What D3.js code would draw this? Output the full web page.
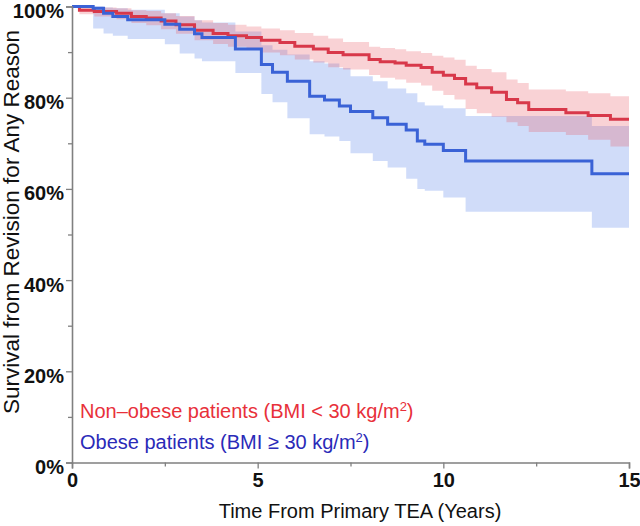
<!DOCTYPE html>
<html><head><meta charset="utf-8">
<script src="https://cdn.jsdelivr.net/npm/d3@7"></script>
<style>body{margin:0;background:#fff}</style>
</head><body>
<svg id="chart" width="640" height="526"></svg>
<script>
// ---- data ----
const nonObeseTime  = [0, 0.2, 0.6, 1.2, 1.6, 2.0, 2.4, 2.8, 3.3, 3.8, 4.2, 4.7, 5.1, 5.6, 6.0, 6.5, 6.9, 7.3, 8.0, 8.3, 8.7, 9.0, 9.4, 9.7, 10.0, 10.3, 10.6, 10.9, 11.3, 11.7, 12.0, 12.3, 13.3, 13.9, 14.5, 15];
const nonObeseSurv  = [100, 99.2, 98.9, 98.5, 97.8, 97.5, 96.8, 96.0, 94.8, 94.1, 93.6, 93.2, 92.6, 92.1, 91.3, 90.7, 89.9, 89.4, 88.4, 87.9, 87.6, 87.1, 86.6, 85.6, 84.9, 84.2, 83.0, 82.2, 81.2, 79.6, 78.9, 77.4, 76.7, 76.1, 75.3, 75.3];
const nonObeseLower = [100, 98.3, 97.8, 97.2, 96.4, 95.9, 95.0, 94.0, 92.6, 91.8, 91.2, 90.7, 89.9, 89.3, 88.4, 87.7, 86.7, 86.2, 85.0, 84.4, 84.0, 83.3, 82.7, 81.5, 80.6, 79.6, 77.5, 76.6, 75.8, 74.6, 73.8, 72.5, 71.8, 70.8, 69.3, 69.3];
const nonObeseUpper = [100, 99.9, 99.8, 99.6, 99.2, 99.0, 98.5, 97.9, 97.0, 96.4, 96.0, 95.6, 95.2, 94.8, 94.2, 93.6, 93.0, 92.2, 91.2, 90.9, 90.6, 90.2, 89.8, 89.2, 88.8, 88.3, 87.0, 86.3, 85.6, 84.0, 83.2, 81.8, 81.4, 81.0, 80.3, 80.3];

const obeseTime  = [0, 0.57, 0.85, 1.1, 1.5, 2.5, 2.9, 3.3, 3.5, 4.4, 5.1, 5.4, 5.8, 6.4, 6.8, 7.2, 7.5, 8.1, 8.5, 9.0, 9.3, 9.5, 10.0, 10.6, 14.0, 15];
const obeseSurv  = [100, 99.6, 98.5, 97.8, 97.1, 96.1, 95.0, 94.0, 93.2, 90.7, 87.3, 85.6, 83.6, 80.3, 79.5, 78.2, 77.0, 75.6, 74.2, 72.9, 70.5, 69.8, 68.4, 66.1, 63.3, 63.3];
const obeseLower = [100, 95.2, 94.1, 93.6, 92.9, 91.7, 89.7, 88.6, 88.0, 85.4, 80.8, 79.0, 75.5, 72.0, 71.5, 70.5, 67.8, 66.1, 64.7, 62.2, 60.0, 59.6, 58.1, 55.0, 51.5, 51.5];
const obeseUpper = [100, 100, 99.8, 99.6, 99.3, 98.5, 97.8, 97.0, 96.5, 94.5, 91.5, 90.5, 89.5, 88.0, 87.5, 86.5, 84.7, 83.6, 82.0, 81.0, 79.0, 78.3, 77.7, 76.0, 73.8, 73.8];

const xTickValues = [0, 5, 10, 15];
const xMinorTicks = [2.5, 7.5, 12.5];
const yTickValues = [0, 20, 40, 60, 80, 100];
const yMinorTicks = [10, 30, 50, 70, 90];
const xTitle = "Time From Primary TEA (Years)";
const yTitle = "Survival from Revision for Any Reason";
const legendNames = ["Non\u2013obese patients (BMI < 30 kg/m", "Obese patients (BMI \u2265 30 kg/m"];

// ---- drawing ----
const svg = d3.select("#chart");
const x = d3.scaleLinear().domain([0, 15]).range([72, 629]);
const y = d3.scaleLinear().domain([0, 100]).range([462.5, 6.5]);

const groups = [
  {t: obeseTime, s: obeseSurv, lo: obeseLower, hi: obeseUpper, line: "#3a62d6", band: "#4a78e6"},
  {t: nonObeseTime, s: nonObeseSurv, lo: nonObeseLower, hi: nonObeseUpper, line: "#d8384a", band: "#e8505e"}
];

const area = d3.area().curve(d3.curveStepAfter)
  .x(d => x(d.t)).y0(d => y(d.lo)).y1(d => y(d.hi));
const line = d3.line().curve(d3.curveStepAfter)
  .x(d => x(d.t)).y(d => y(d.s));

const rows = g => g.t.map((t, i) => ({t, s: g.s[i], lo: g.lo[i], hi: g.hi[i]}));

groups.forEach(g => {
  svg.append("path").datum(rows(g)).attr("d", area)
    .attr("fill", g.band).attr("fill-opacity", 0.26).attr("stroke", "none");
});
[groups[1], groups[0]].forEach(g => {
  svg.append("path").datum(rows(g)).attr("d", line)
    .attr("fill", "none").attr("stroke", g.line).attr("stroke-width", 3);
});

const axisColor = "#808080";
const font = "'Liberation Sans', Arial, sans-serif";

// y axis
const yAxis = svg.append("g").attr("transform", "translate(72,0)")
  .call(d3.axisLeft(y).tickValues(yTickValues).tickSize(6).tickPadding(2).tickFormat(d => d + "%"));
svg.append("g").attr("transform", "translate(72,0)")
  .call(d3.axisLeft(y).tickValues(yMinorTicks).tickSize(4).tickFormat(""))
  .call(g => g.select(".domain").remove());
// x axis
const xAxis = svg.append("g").attr("transform", "translate(0,462.5)")
  .call(d3.axisBottom(x).tickValues(xTickValues).tickSize(6).tickPadding(4));
svg.append("g").attr("transform", "translate(0,462.5)")
  .call(d3.axisBottom(x).tickValues(xMinorTicks).tickSize(4).tickFormat(""))
  .call(g => g.select(".domain").remove());

svg.selectAll(".domain").attr("stroke", axisColor).attr("stroke-width", 1.6);
svg.selectAll(".tick line").attr("stroke", axisColor).attr("stroke-width", 1.3);
svg.selectAll(".tick text").attr("fill", "#111").style("font-family", font)
  .style("font-weight", "bold").style("font-size", "20px");
yAxis.selectAll(".tick text").attr("dy", "0.55em");

// titles
svg.append("text").attr("x", 360).attr("y", 518).attr("text-anchor", "middle")
  .style("font-family", font).style("font-size", "20px").attr("fill", "#111").text(xTitle);
svg.append("text").attr("transform", "translate(19,222) rotate(-90)").attr("text-anchor", "middle")
  .style("font-family", font).style("font-size", "22.5px").attr("fill", "#111").text(yTitle);

// legend texts
const legendColors = ["#e8303a", "#2a2ab8"];
const legendY = [418, 449];
legendNames.forEach((name, i) => {
  const t = svg.append("text").attr("x", 80).attr("y", legendY[i])
    .style("font-family", font).style("font-size", "20px").attr("fill", legendColors[i]);
  t.append("tspan").text(name);
  t.append("tspan").attr("dy", -7).style("font-size", "13px").text("2");
  t.append("tspan").attr("dy", 7).text(")");
});
</script>
</body></html>
